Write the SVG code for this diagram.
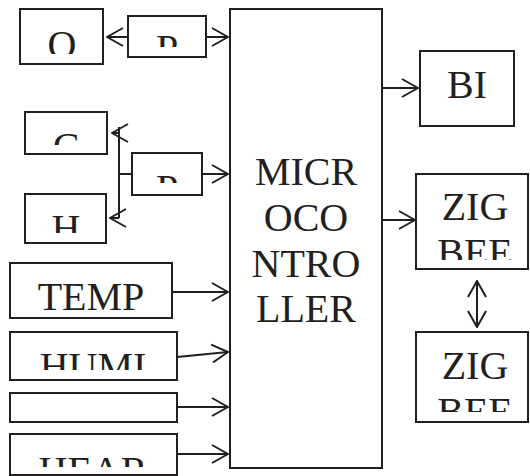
<svg xmlns="http://www.w3.org/2000/svg" width="530" height="476" viewBox="0 0 530 476">
<style>
.box{fill:#fff;stroke:#231f20;stroke-width:2}
.t{font-family:'Liberation Serif','Times New Roman','DejaVu Serif',serif;font-size:40px;fill:#231f20;text-anchor:middle}
.c{fill:none;stroke:#231f20;stroke-width:2}
</style>
<defs>
<marker id="ah" markerUnits="userSpaceOnUse" viewBox="0 0 18 20" refX="17" refY="10" markerWidth="18" markerHeight="20" orient="auto-start-reverse">
<path d="M1,1 L17,10 L1,19" fill="none" stroke="#231f20" stroke-width="2"/>
</marker>
<clipPath id="cO"><rect x="20" y="9" width="83" height="45"/></clipPath>
<clipPath id="cP1"><rect x="128" y="16" width="78" height="31"/></clipPath>
<clipPath id="cC"><rect x="25" y="112" width="82" height="33"/></clipPath>
<clipPath id="cH"><rect x="25" y="194" width="81" height="39"/></clipPath>
<clipPath id="cP2"><rect x="132" y="153" width="70" height="30"/></clipPath>
<clipPath id="cHU"><rect x="10" y="332" width="167" height="38"/></clipPath>
<clipPath id="cHE"><rect x="10" y="434" width="167" height="33"/></clipPath>
<clipPath id="cZ1"><rect x="416" y="174" width="112" height="86"/></clipPath>
<clipPath id="cZ2"><rect x="416" y="332" width="112" height="80"/></clipPath>
</defs>
<g id="mcu"><rect class="box" x="230" y="9" width="152" height="459"/>
<text class="t" font-family="Liberation Serif" x="306" y="185">MICR</text><text class="t" font-family="Liberation Serif" x="306" y="231">OCO</text><text class="t" font-family="Liberation Serif" x="306" y="277">NTRO</text><text class="t" font-family="Liberation Serif" x="306" y="322">LLER</text></g>
<g id="o"><rect class="box" x="20" y="9" width="83" height="55"/><text class="t" x="62" y="58" clip-path="url(#cO)">O</text></g>
<g id="p1"><rect class="box" x="128" y="16" width="78" height="41"/><text class="t" x="167" y="62" clip-path="url(#cP1)">P</text></g>
<g id="c"><rect class="box" x="25" y="112" width="82" height="42"/><text class="t" x="66" y="160" clip-path="url(#cC)">C</text></g>
<g id="h"><rect class="box" x="25" y="194" width="81" height="49"/><text class="t" x="66" y="242" clip-path="url(#cH)">H</text></g>
<g id="p2"><rect class="box" x="132" y="153" width="70" height="42"/><text class="t" x="167" y="202" clip-path="url(#cP2)">P</text></g>
<g id="temp"><rect class="box" x="10" y="263" width="162" height="55"/><text class="t" x="91" y="310">TEMP</text></g>
<g id="humi"><rect class="box" x="10" y="332" width="167" height="48"/><text class="t" x="93" y="380" clip-path="url(#cHU)">HUMI</text></g>
<g id="empty"><rect class="box" x="10" y="393" width="167" height="29"/></g>
<g id="hear"><rect class="box" x="10" y="434" width="167" height="41"/><text class="t" x="93" y="484" clip-path="url(#cHE)">HEAR</text></g>
<g id="bi"><rect class="box" x="420" y="51" width="94" height="75"/><text class="t" x="467" y="98">BI</text></g>
<g id="zig1"><rect class="box" x="416" y="174" width="112" height="95"/><g clip-path="url(#cZ1)"><text class="t" x="475" y="220">ZIG</text><text class="t" x="475" y="266">BEE</text></g></g>
<g id="zig2"><rect class="box" x="416" y="332" width="112" height="90"/><g clip-path="url(#cZ2)"><text class="t" x="475" y="379">ZIG</text><text class="t" x="475" y="425">BEE</text></g></g>
<g id="connectors" class="c">
<path class="c" d="M128,37 H107" marker-end="url(#ah)"/>
<path class="c" d="M206,37 H228" marker-end="url(#ah)"/>
<path class="c" d="M119,127 V218 M119,174 H132"/>
<path class="c" d="M119,133 H112" marker-end="url(#ah)"/>
<path class="c" d="M119,218 H110" marker-end="url(#ah)"/>
<path class="c" d="M202,174 H228" marker-end="url(#ah)"/>
<path class="c" d="M172,292 H228" marker-end="url(#ah)"/>
<path class="c" d="M177,357 L228,352" marker-end="url(#ah)"/>
<path class="c" d="M177,407 H228" marker-end="url(#ah)"/>
<path class="c" d="M177,454 H228" marker-end="url(#ah)"/>
<path class="c" d="M382,88 H418" marker-end="url(#ah)"/>
<path class="c" d="M382,220 H415" marker-end="url(#ah)"/>
<path class="c" d="M477,281 V327" marker-start="url(#ah)" marker-end="url(#ah)"/>
</g>
</svg>
